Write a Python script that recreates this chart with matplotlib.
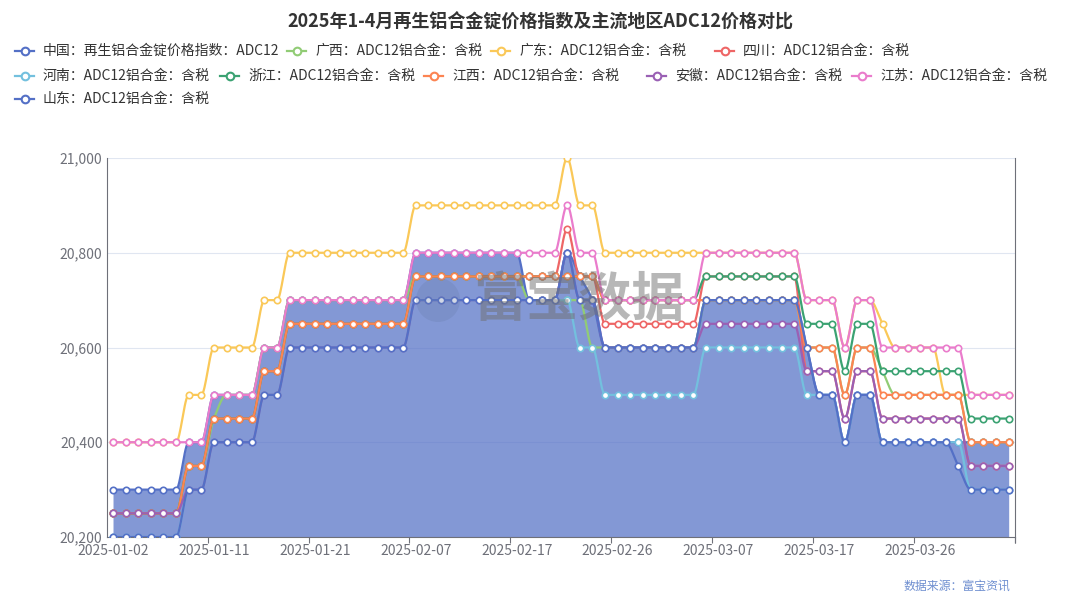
import matplotlib
matplotlib.use("Agg")
import matplotlib.pyplot as plt
import numpy as np

plt.rcParams['font.family'] = ['Noto Sans CJK SC', 'DejaVu Sans']

title = "2025年1-4月再生铝合金锭价格指数及主流地区ADC12价格对比"
tick_labels = ["2025-01-02", "2025-01-11", "2025-01-21", "2025-02-07", "2025-02-17",
               "2025-02-26", "2025-03-07", "2025-03-17", "2025-03-26"]
n_days = 72

names = ["中国：再生铝合金锭价格指数：ADC12", "广西：ADC12铝合金：含税", "广东：ADC12铝合金：含税",
         "四川：ADC12铝合金：含税", "河南：ADC12铝合金：含税", "浙江：ADC12铝合金：含税",
         "江西：ADC12铝合金：含税", "安徽：ADC12铝合金：含税", "江苏：ADC12铝合金：含税",
         "山东：ADC12铝合金：含税"]
colors = ['#5470c6', '#91cc75', '#fac858', '#ee6666', '#73c0de',
          '#3ba272', '#fc8452', '#9a60b4', '#ea7ccc', '#5470c6']

china = ([20300] * 6 + [20400] * 2 + [20500] * 4 + [20600] * 2 + [20700] * 10 + [20800] * 9
         + [20700] * 3 + [20800, 20750, 20700] + [20600] * 8 + [20700] * 8 + [20600]
         + [20500] * 2 + [20400] + [20500] * 2 + [20400] * 11)
guangxi = ([20250] * 6 + [20350] * 2 + [20450] + [20500] * 3 + [20600] * 2 + [20700] * 10
           + [20750] * 9 + [20700] * 5 + [20600] * 9 + [20700] * 8 + [20600] * 3 + [20500]
           + [20600] * 2 + [20550] + [20500] * 6 + [20400] * 4)
guangdong = ([20400] * 6 + [20500] * 2 + [20600] * 4 + [20700] * 2 + [20800] * 10 + [20900] * 12
             + [21000] + [20900] * 2 + [20800] * 16 + [20700] * 3 + [20600] + [20700] * 2
             + [20650] + [20600] * 4 + [20500] * 6)
sichuan = ([20250] * 6 + [20350] * 2 + [20450] * 4 + [20550] * 2 + [20650] * 10 + [20750] * 12
           + [20850] + [20750] * 2 + [20650] * 8 + [20750] * 8 + [20550] * 3 + [20450]
           + [20550] * 2 + [20450] * 7 + [20350] * 4)
henan = ([20200] * 6 + [20300] * 2 + [20400] * 4 + [20500] * 2 + [20600] * 10 + [20700] * 13
         + [20600] * 2 + [20500] * 8 + [20600] * 8 + [20500] * 3 + [20400] + [20500] * 2
         + [20400] * 7 + [20300] * 4)
zhejiang = ([20250] * 6 + [20350] * 2 + [20450] * 4 + [20550] * 2 + [20650] * 10 + [20750] * 15
            + [20700] * 8 + [20750] * 8 + [20650] * 3 + [20550] + [20650] * 2 + [20550] * 7
            + [20450] * 4)
jiangxi = ([20250] * 6 + [20350] * 2 + [20450] * 4 + [20550] * 2 + [20650] * 10 + [20750] * 15
           + [20700] * 16 + [20600] * 3 + [20500] + [20600] * 2 + [20500] * 7 + [20400] * 4)
anhui = ([20250] * 6 + [20300] * 2 + [20400] * 4 + [20500] * 2 + [20600] * 10 + [20700] * 12
         + [20800] + [20700] * 2 + [20600] * 8 + [20650] * 8 + [20550] * 3 + [20450]
         + [20550] * 2 + [20450] * 7 + [20350] * 4)
jiangsu = ([20400] * 8 + [20500] * 4 + [20600] * 2 + [20700] * 10 + [20800] * 12 + [20900]
           + [20800] * 2 + [20700] * 8 + [20800] * 8 + [20700] * 3 + [20600] + [20700] * 2
           + [20600] * 7 + [20500] * 4)
shandong = ([20200] * 6 + [20300] * 2 + [20400] * 4 + [20500] * 2 + [20600] * 10 + [20700] * 12
            + [20800] + [20700] * 2 + [20600] * 8 + [20700] * 8 + [20600] + [20500] * 2
            + [20400] + [20500] * 2 + [20400] * 6 + [20350] + [20300] * 4)

series = [china, guangxi, guangdong, sichuan, henan, zhejiang, jiangxi, anhui, jiangsu, shandong]


def smooth(y, n=16):
    # monotone cubic (Fritsch-Carlson), close to echarts' smooth steps
    y = np.asarray(y, float)
    x = np.arange(len(y), dtype=float)
    d = np.diff(y)
    m = np.zeros_like(y)
    m[0], m[-1] = d[0], d[-1]
    for k in range(1, len(y) - 1):
        if d[k - 1] * d[k] > 0:
            m[k] = 2.0 / (1.0 / d[k - 1] + 1.0 / d[k])
    xs, ys = [], []
    for k in range(len(y) - 1):
        t = np.linspace(0, 1, n, endpoint=False)
        h00 = 2 * t**3 - 3 * t**2 + 1
        h10 = t**3 - 2 * t**2 + t
        h01 = -2 * t**3 + 3 * t**2
        h11 = t**3 - t**2
        xs.append(x[k] + t)
        ys.append(h00 * y[k] + h10 * m[k] + h01 * y[k + 1] + h11 * m[k + 1])
    xs.append([x[-1]])
    ys.append([y[-1]])
    return np.concatenate(xs), np.concatenate(ys)


fig = plt.figure(figsize=(10.8, 5.99), dpi=100)
ax = fig.add_axes([106.7 / 1080, 62 / 599, 908.3 / 1080, 379 / 599])

x = np.arange(n_days)
for k, (vals, col) in enumerate(zip(series, colors)):
    sx, sy = smooth(vals)
    z = 3 + k * 0.1
    if k == 0:
        ax.fill_between(sx, 20200, sy, color=col, alpha=0.72, lw=0, zorder=1)
    ax.plot(sx, sy, color=col, lw=1.6, zorder=z, solid_capstyle='round')
    ax.plot(x, vals, 'o', ms=4.6, mfc='white', mec=col, mew=1.2, zorder=z + 0.05)

ax.set_xlim(-0.5, n_days - 0.5)
ax.set_ylim(20200, 21000)
ax.set_yticks([20200, 20400, 20600, 20800, 21000])
ax.set_yticklabels([f"{v:,}" for v in [20200, 20400, 20600, 20800, 21000]])
ax.yaxis.grid(True, color='#E0E6F1', lw=0.8, zorder=0)
ax.set_axisbelow(True)

ax.set_xticks(np.arange(0, n_days, 8))
ax.set_xticklabels(tick_labels)
ax.set_xticks(np.arange(7.5, n_days, 8).tolist() + [n_days - 0.5], minor=True)
ax.tick_params(axis='x', which='major', length=0, pad=5, labelsize=10, colors='#6E7079')
ax.tick_params(axis='x', which='minor', length=4, width=0.8, color='#6E7079')
ax.tick_params(axis='y', length=0, pad=3, labelsize=10, colors='#6E7079')

for side in ['left', 'bottom', 'right']:
    ax.spines[side].set_color('#6E7079')
    ax.spines[side].set_linewidth(0.8)
ax.spines['top'].set_visible(False)

# watermark
ax.text(0.52, 0.625, "富宝数据", transform=ax.transAxes, ha='center', va='center',
        fontsize=38, fontweight='bold', color='#707070', alpha=0.5, zorder=10)

# overlay in pixel coordinates for title, legend and source
ov = fig.add_axes([0, 0, 1, 1], facecolor='none')
ov.set_xlim(0, 1080)
ov.set_ylim(599, 0)
ov.axis('off')

ov.add_patch(plt.Circle((438, 300), 22, color='#6a7fae', alpha=0.3, lw=0))

ov.text(540, 22, title, ha='center', va='center', fontsize=13, fontweight='bold', color='#333333')

legend_pos = [(15, 51), (287, 51), (491, 51), (715, 51),
              (15, 76), (220, 76), (424, 76), (647, 76), (852, 76),
              (15, 99)]
for (lx, ly), name, col in zip(legend_pos, names, colors):
    ov.plot([lx, lx + 19], [ly, ly], color=col, lw=1.6)
    ov.plot([lx + 9.5], [ly], 'o', ms=5.5, mfc='white', mec=col, mew=1.5)
    ov.text(lx + 28, ly, name, ha='left', va='center', fontsize=10, color='#333333')

ov.text(1010, 586, "数据来源：富宝资讯", ha='right', va='center', fontsize=8.6, color='#6f8fd0')

fig.savefig("out.png", dpi=100)
